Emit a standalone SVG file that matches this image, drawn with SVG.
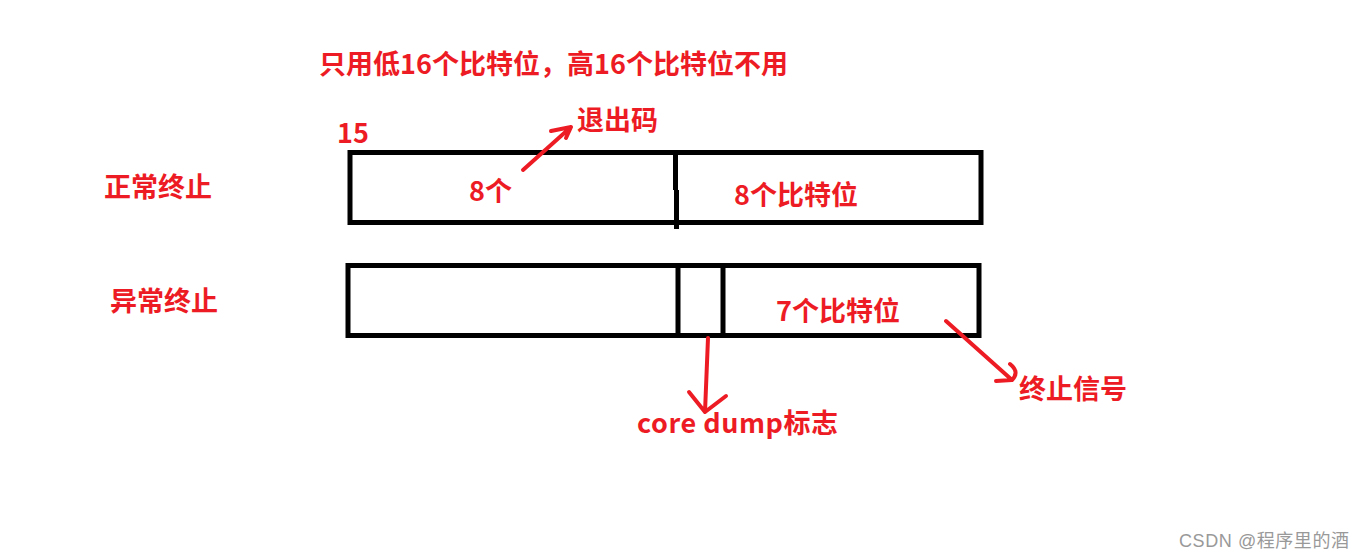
<svg xmlns="http://www.w3.org/2000/svg" width="1365" height="558" viewBox="0 0 1365 558">
<style>
.t{font-family:"Noto Sans CJK SC","Microsoft YaHei",sans-serif;font-weight:bold;fill:#ED1C24;font-size:27px}
.box{fill:none;stroke:#000;stroke-width:5}
.ar{fill:none;stroke:#ED1C24;stroke-width:4;stroke-linecap:round;stroke-linejoin:round}
.wm{font-family:"Liberation Sans","Noto Sans CJK SC",sans-serif;fill:#999;font-size:18px}
</style>
<rect width="1365" height="558" fill="#fff"/>
<text class="t" x="319" y="74" textLength="469">只用低16个比特位，高16个比特位不用</text>
<g id="normal">
<rect class="box" x="350" y="152.5" width="631" height="70"/>
<path class="box" d="M675.5 152 V190 M676.5 190 V229"/>
<text class="t" x="337" y="143">15</text>
<text class="t" x="104" y="197">正常终止</text>
<text class="t" x="469" y="201">8个</text>
<text class="t" x="734" y="205">8个比特位</text>
</g>
<g id="abnormal">
<rect class="box" x="348" y="265.5" width="631" height="70"/>
<rect class="box" x="678" y="265.5" width="45" height="70"/>
<text class="t" x="110" y="311">异常终止</text>
<text class="t" x="776" y="321">7个比特位</text>
</g>
<g id="labels">
<text class="t" x="577" y="130">退出码</text>
<text class="t" x="637" y="433" textLength="201">core dump标志</text>
<text class="t" x="1019" y="399">终止信号</text>
</g>
<g id="connectors">
<path class="ar" d="M523 170 L571 127 M551 131 L571 127 L566 138"/>
<path class="ar" d="M708 338 L705 412 M689 392 L705 412 L726 396"/>
<path class="ar" d="M946 321 L1012 380 M996 381 L1012 380 Q1020 372 1010 364"/>
</g>
<text class="wm" x="1179" y="547" textLength="170">CSDN @程序里的酒</text>
</svg>
